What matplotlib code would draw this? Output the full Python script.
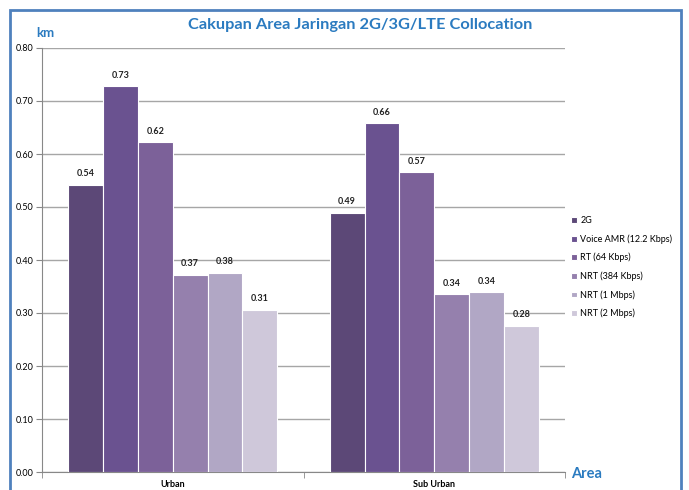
import matplotlib
matplotlib.use("Agg")
import matplotlib.pyplot as plt
import numpy as np
from matplotlib.patches import Rectangle

categories = ["Urban", "Sub Urban"]
series = ["2G", "Voice AMR (12.2 Kbps)", "RT (64 Kbps)", "NRT (384 Kbps)", "NRT (1 Mbps)", "NRT (2 Mbps)"]
urban = [0.542, 0.728, 0.622, 0.372, 0.376, 0.306]
sub_urban = [0.489, 0.658, 0.566, 0.336, 0.339, 0.276]
colors = ["#5C4877", "#6A5290", "#7C6199", "#9580AD", "#B1A7C5", "#CFC8DA"]
yticks = [0.0, 0.1, 0.2, 0.3, 0.4, 0.5, 0.6, 0.7, 0.8]

plt.rcParams['font.family'] = ['Lato', 'DejaVu Sans']

fig = plt.figure(figsize=(6.89, 4.90), dpi=100)
ax = fig.add_axes([42/689, 1-472/490, (565-42)/689, (472-48)/490])

data = np.array([urban, sub_urban])
n = len(series)
w = 0.8 / n
x = np.arange(len(categories))
for i, s in enumerate(series):
    pos = x + (i - (n - 1) / 2) * w
    bars = ax.bar(pos, data[:, i], width=w, color=colors[i], edgecolor="white",
                  linewidth=0.8, label=s, zorder=3)
    for b, v in zip(bars, data[:, i]):
        ax.text(b.get_x() + b.get_width() / 2, v + 0.012, f"{v:.2f}",
                ha="center", va="bottom", fontsize=6.5, fontweight="bold", color="#222222")

ax.set_xlim(-0.5, 1.5)
ax.set_ylim(0, 0.8)
ax.set_yticks(yticks)
ax.set_yticklabels([f"{t:.2f}" for t in yticks], fontsize=6.5)
ax.yaxis.grid(True, color="#A6A6A6", linewidth=1.0, zorder=0)
ax.set_xticks(x)
ax.set_xticklabels(categories, fontsize=6.5, fontweight="bold")
ax.tick_params(axis="x", length=0, pad=6)
ax.set_xticks([-0.5, 0.5, 1.5], minor=True)
ax.tick_params(axis="x", which="minor", length=4, color="#888888")
ax.tick_params(axis="y", length=4, color="#888888", pad=2)
for sp in ["top", "right"]:
    ax.spines[sp].set_visible(False)
for sp in ["left", "bottom"]:
    ax.spines[sp].set_color("#888888")

leg = ax.legend(loc="center left", bbox_to_anchor=(1.0, 0.483), frameon=False,
                fontsize=6.5, handlelength=0.6, handleheight=0.6, handletextpad=0.4,
                labelspacing=1.0, borderaxespad=0.3)

blue = "#2B7BC0"
fig.text(360/689, 1-25/490, "Cakupan Area Jaringan 2G/3G/LTE Collocation",
         ha="center", va="center", fontsize=11.8, fontweight="bold", color=blue)
fig.text(36/689, 1-33/490, "km", ha="left", va="center", fontsize=9.5,
         fontweight="bold", color=blue)
fig.text(571/689, 1-474/490, "Area", ha="left", va="center", fontsize=10.5,
         fontweight="bold", color=blue)

fig.patches.append(Rectangle((10/689, -0.05), (681-10)/689, 0.05 + 1-10/490,
                             transform=fig.transFigure, fill=False,
                             edgecolor="#4F81BD", linewidth=2))

fig.savefig("out.png", dpi=100)
